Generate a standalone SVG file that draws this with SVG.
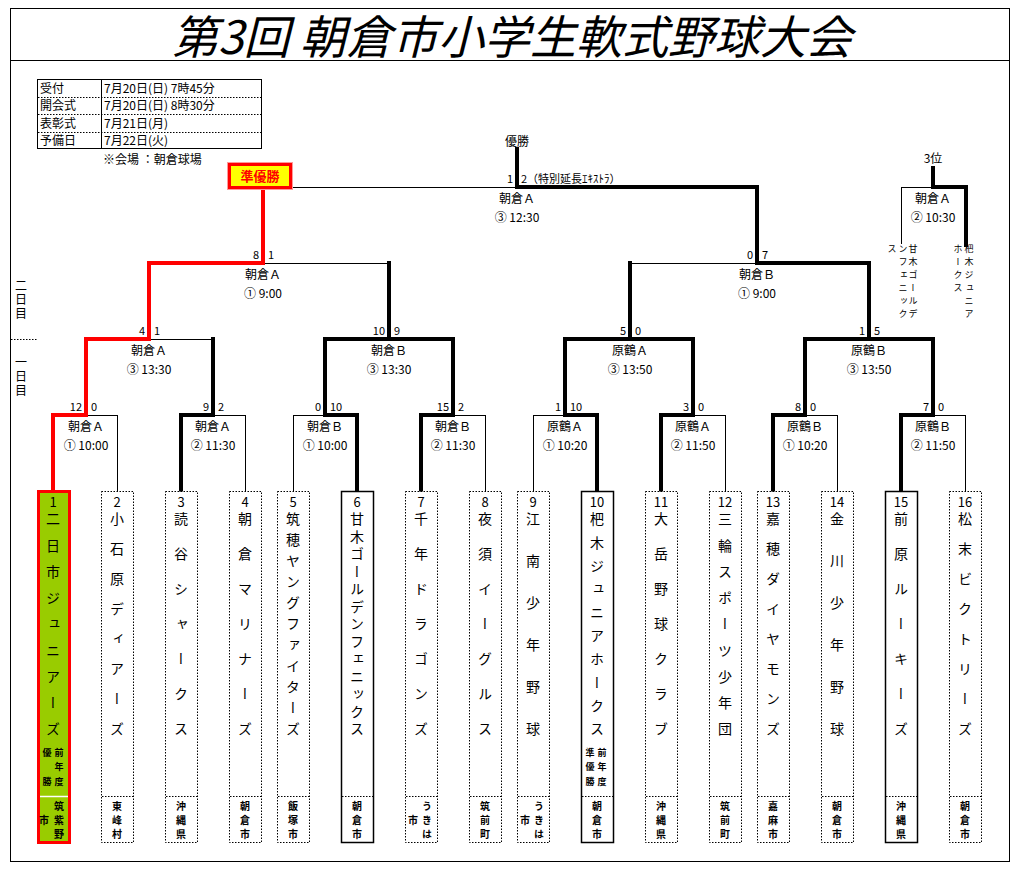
<svg xmlns="http://www.w3.org/2000/svg" width="1024" height="870" viewBox="0 0 1024 870">
<style>
text{font-family:"Noto Sans CJK JP","Noto Sans CJK SC",sans-serif;fill:#000}
.title{font-size:46px;font-style:italic;text-anchor:middle}
.t12{font-size:12px}
.v{font-size:12px;text-anchor:middle}
.sl{font-size:11px;text-anchor:end}
.sr{font-size:11px;text-anchor:start}
.num{font-size:13px;text-anchor:middle}
.vt{writing-mode:vertical-rl;font-size:14px}
.ct{writing-mode:vertical-rl;font-size:10px;font-weight:bold;letter-spacing:4px}
.sm{writing-mode:vertical-rl;font-size:9px;font-weight:bold}
.tiny{writing-mode:vertical-rl;font-size:9px;letter-spacing:4px}
.day{writing-mode:vertical-rl;font-size:12px;letter-spacing:2px}
.tn{fill:none;stroke:#000;stroke-width:1;shape-rendering:crispEdges}
.tk{fill:none;stroke:#000;stroke-width:4;stroke-linejoin:miter;stroke-linecap:square}
.rd{fill:none;stroke:#ff0000;stroke-width:4;stroke-linejoin:miter;stroke-linecap:square}
.box{fill:#fff;stroke:#000;stroke-width:1;stroke-dasharray:1.5,1.5}
.boxs{fill:#fff;stroke:#000;stroke-width:1.5}
.dv{stroke:#000;stroke-width:1;stroke-dasharray:1.5,1.5}
</style>
<rect x="0" y="0" width="1024" height="870" fill="#fff"/>
<g id="frame">
<rect x="10.5" y="8.5" width="999" height="853" fill="none" stroke="#000" stroke-width="1"/>
<line x1="10" y1="60.5" x2="1010" y2="60.5" stroke="#000" stroke-width="1"/>
<text class="title" x="512" y="54">第3回 朝倉市小学生軟式野球大会</text>
</g>
<g id="info">
<rect x="37.5" y="79.5" width="224" height="69" fill="none" stroke="#000" stroke-width="1"/>
<line x1="101.5" y1="79" x2="101.5" y2="149" stroke="#000" stroke-width="1"/>
<line x1="38" y1="97.5" x2="261" y2="97.5" class="dv"/>
<line x1="38" y1="114.5" x2="261" y2="114.5" class="dv"/>
<line x1="38" y1="132.5" x2="261" y2="132.5" class="dv"/>
<text class="t12" x="40" y="93">受付</text>
<text class="t12" x="40" y="110">開会式</text>
<text class="t12" x="40" y="128">表彰式</text>
<text class="t12" x="40" y="145">予備日</text>
<text class="t12" x="104" y="93">7月20日(日) 7時45分</text>
<text class="t12" x="104" y="110">7月20日(日) 8時30分</text>
<text class="t12" x="104" y="128">7月21日(月)</text>
<text class="t12" x="104" y="145">7月22日(火)</text>
<text class="t12" x="103" y="164">※会場 ：朝倉球場</text>
</g>
<g id="days">
<text class="day" x="21" y="279">二日目</text>
<line x1="11" y1="339.5" x2="38" y2="339.5" class="dv"/>
<text class="day" x="21" y="356">一日目</text>
</g>
<g id="connectors">
<path class="tn" transform="translate(0.5,0.5)" d="M117,491V415H86 M245,491V415H213 M293,491V415H325 M485,491V415H453 M533,491V415H565 M725,491V415H693 M837,491V415H805 M965,491V415H933 M213,339H149 M389,263H263 M630,263H757 M263,187H517 M901,243V187H933"/>
<path class="tk" d="M181,491V415H213V339 M357,491V415H325V339H389V263 M421,491V415H453V339H389 M597,491V415H565V339H630V263 M661,491V415H693V339H630 M773,491V415H805V339H869 M901,491V415H933V339H869V263H757V187H517V149 M966,245V187H933V168"/>
<path class="rd" d="M53,491V415H86V339H149V263H263V187"/>
</g>
<g id="final">
<text class="v" x="517" y="146">優勝</text>
<text class="sl" x="513" y="183">1</text>
<text class="sr" x="521" y="183">2（特別延長ｴｷｽﾄﾗ）</text>
<text class="v" x="517" y="203">朝倉Ａ</text>
<text class="v" x="517" y="222">③ 12:30</text>
</g>
<g id="runnerup">
<rect x="229.5" y="164.5" width="61" height="23" fill="#ffff00" stroke="#ff0000" stroke-width="3"/>
<rect x="227.5" y="162.5" width="65" height="27" fill="none" stroke="#ff9999" stroke-width="1"/>
<text x="260" y="181" font-size="13" font-weight="bold" text-anchor="middle" style="fill:#ff0000">準優勝</text>
</g>
<g id="third">
<text class="v" x="933" y="163">3位</text>
<text class="v" x="933" y="203">朝倉Ａ</text>
<text class="v" x="933" y="222">② 10:30</text>
<text class="tiny" x="913" y="244">甘木ゴールデ</text>
<text class="tiny" x="903" y="244">ンフェニック</text>
<text class="tiny" x="892" y="244">ス</text>
<text class="tiny" x="969" y="244">杷木ジュニア</text>
<text class="tiny" x="958" y="244">ホークス</text>
</g>
<g id="r3">
<text class="sl" x="259" y="259">8</text><text class="sr" x="268" y="259">1</text>
<text class="v" x="263" y="279">朝倉Ａ</text><text class="v" x="263" y="298">① 9:00</text>
<text class="sl" x="753" y="259">0</text><text class="sr" x="762" y="259">7</text>
<text class="v" x="757" y="279">朝倉Ｂ</text><text class="v" x="757" y="298">① 9:00</text>
</g>
<g id="r2">
<text class="sl" x="145" y="335">4</text><text class="sr" x="154" y="335">1</text>
<text class="v" x="149" y="355">朝倉Ａ</text><text class="v" x="149" y="374">③ 13:30</text>
<text class="sl" x="385" y="335">10</text><text class="sr" x="394" y="335">9</text>
<text class="v" x="389" y="355">朝倉Ｂ</text><text class="v" x="389" y="374">③ 13:30</text>
<text class="sl" x="626" y="335">5</text><text class="sr" x="635" y="335">0</text>
<text class="v" x="630" y="355">原鶴Ａ</text><text class="v" x="630" y="374">③ 13:50</text>
<text class="sl" x="865" y="335">1</text><text class="sr" x="874" y="335">5</text>
<text class="v" x="869" y="355">原鶴Ｂ</text><text class="v" x="869" y="374">③ 13:50</text>
</g>
<g id="r1">
<text class="sl" x="82" y="411">12</text><text class="sr" x="91" y="411">0</text>
<text class="v" x="86" y="431">朝倉Ａ</text><text class="v" x="86" y="450">① 10:00</text>
<text class="sl" x="209" y="411">9</text><text class="sr" x="218" y="411">2</text>
<text class="v" x="213" y="431">朝倉Ａ</text><text class="v" x="213" y="450">② 11:30</text>
<text class="sl" x="321" y="411">0</text><text class="sr" x="330" y="411">10</text>
<text class="v" x="325" y="431">朝倉Ｂ</text><text class="v" x="325" y="450">① 10:00</text>
<text class="sl" x="449" y="411">15</text><text class="sr" x="458" y="411">2</text>
<text class="v" x="453" y="431">朝倉Ｂ</text><text class="v" x="453" y="450">② 11:30</text>
<text class="sl" x="561" y="411">1</text><text class="sr" x="570" y="411">10</text>
<text class="v" x="565" y="431">原鶴Ａ</text><text class="v" x="565" y="450">① 10:20</text>
<text class="sl" x="689" y="411">3</text><text class="sr" x="698" y="411">0</text>
<text class="v" x="693" y="431">原鶴Ａ</text><text class="v" x="693" y="450">② 11:50</text>
<text class="sl" x="801" y="411">8</text><text class="sr" x="810" y="411">0</text>
<text class="v" x="805" y="431">原鶴Ｂ</text><text class="v" x="805" y="450">① 10:20</text>
<text class="sl" x="929" y="411">7</text><text class="sr" x="938" y="411">0</text>
<text class="v" x="933" y="431">原鶴Ｂ</text><text class="v" x="933" y="450">② 11:50</text>
</g>
<g id="team1">
<rect x="38.5" y="491.5" width="31" height="351" fill="#99cc00" stroke="#ff0000" stroke-width="3"/>
<line x1="40" y1="796.5" x2="68" y2="796.5" stroke="#fff" stroke-width="1.5"/>
<text class="num" x="53" y="507">1</text>
<text class="vt" x="53" y="512" style="letter-spacing:12.25px">二日市ジュニアーズ</text>
<text class="sm" x="59" y="748" style="letter-spacing:5.5px">前年度</text>
<text class="sm" x="47" y="748" style="letter-spacing:20px">優勝</text>
<text class="ct" x="59" y="801">筑紫野</text>
<text class="ct" x="44" y="815">市</text>
</g>
<g id="team2">
<rect class="box" x="101.5" y="491.5" width="32" height="351"/>
<line class="dv" x1="102" y1="796.5" x2="133" y2="796.5"/>
<text class="num" x="117" y="507">2</text>
<text class="vt" x="117" y="512" style="letter-spacing:16px">小石原ディアーズ</text>
<text class="ct" x="117" y="801">東峰村</text>
</g>
<g id="team3">
<rect class="box" x="165.5" y="491.5" width="32" height="351"/>
<line class="dv" x1="166" y1="796.5" x2="197" y2="796.5"/>
<text class="num" x="181" y="507">3</text>
<text class="vt" x="181" y="512" style="letter-spacing:21px">読谷シャークス</text>
<text class="ct" x="181" y="801">沖縄県</text>
</g>
<g id="team4">
<rect class="box" x="229.5" y="491.5" width="32" height="351"/>
<line class="dv" x1="230" y1="796.5" x2="261" y2="796.5"/>
<text class="num" x="245" y="507">4</text>
<text class="vt" x="245" y="512" style="letter-spacing:21px">朝倉マリナーズ</text>
<text class="ct" x="245" y="801">朝倉市</text>
</g>
<g id="team5">
<rect class="box" x="277.5" y="491.5" width="32" height="351"/>
<line class="dv" x1="278" y1="796.5" x2="309" y2="796.5"/>
<text class="num" x="293" y="507">5</text>
<text class="vt" x="293" y="512" style="letter-spacing:7px">筑穂ヤングファイターズ</text>
<text class="ct" x="293" y="801">飯塚市</text>
</g>
<g id="team6">
<rect class="boxs" x="341.5" y="491.5" width="32" height="351"/>
<line class="dv" x1="342" y1="796.5" x2="373" y2="796.5"/>
<text class="num" x="357" y="507">6</text>
<text class="vt" x="357" y="512" style="letter-spacing:3.5px">甘木ゴールデンフェニックス</text>
<text class="ct" x="357" y="801">朝倉市</text>
</g>
<g id="team7">
<rect class="box" x="405.5" y="491.5" width="32" height="351"/>
<line class="dv" x1="406" y1="796.5" x2="437" y2="796.5"/>
<text class="num" x="421" y="507">7</text>
<text class="vt" x="421" y="512" style="letter-spacing:21px">千年ドラゴンズ</text>
<text class="ct" x="427" y="801">うきは</text>
<text class="ct" x="413" y="815">市</text>
</g>
<g id="team8">
<rect class="box" x="469.5" y="491.5" width="32" height="351"/>
<line class="dv" x1="470" y1="796.5" x2="501" y2="796.5"/>
<text class="num" x="485" y="507">8</text>
<text class="vt" x="485" y="512" style="letter-spacing:21px">夜須イーグルス</text>
<text class="ct" x="485" y="801">筑前町</text>
</g>
<g id="team9">
<rect class="box" x="517.5" y="491.5" width="32" height="351"/>
<line class="dv" x1="518" y1="796.5" x2="549" y2="796.5"/>
<text class="num" x="533" y="507">9</text>
<text class="vt" x="533" y="512" style="letter-spacing:28px">江南少年野球</text>
<text class="ct" x="539" y="801">うきは</text>
<text class="ct" x="525" y="815">市</text>
</g>
<g id="team10">
<rect class="boxs" x="581.5" y="491.5" width="32" height="351"/>
<line class="dv" x1="582" y1="796.5" x2="613" y2="796.5"/>
<text class="num" x="597" y="507">10</text>
<text class="vt" x="597" y="512" style="letter-spacing:9.33px">杷木ジュニアホークス</text>
<text class="sm" x="602" y="748" style="letter-spacing:5.5px">前年度</text>
<text class="sm" x="590" y="748" style="letter-spacing:5.5px">準優勝</text>
<text class="ct" x="597" y="801">朝倉市</text>
</g>
<g id="team11">
<rect class="box" x="645.5" y="491.5" width="32" height="351"/>
<line class="dv" x1="646" y1="796.5" x2="677" y2="796.5"/>
<text class="num" x="661" y="507">11</text>
<text class="vt" x="661" y="512" style="letter-spacing:21px">大岳野球クラブ</text>
<text class="ct" x="661" y="801">沖縄県</text>
</g>
<g id="team12">
<rect class="box" x="709.5" y="491.5" width="32" height="351"/>
<line class="dv" x1="710" y1="796.5" x2="741" y2="796.5"/>
<text class="num" x="725" y="507">12</text>
<text class="vt" x="725" y="512" style="letter-spacing:12.25px">三輪スポーツ少年団</text>
<text class="ct" x="725" y="801">筑前町</text>
</g>
<g id="team13">
<rect class="box" x="757.5" y="491.5" width="32" height="351"/>
<line class="dv" x1="758" y1="796.5" x2="789" y2="796.5"/>
<text class="num" x="773" y="507">13</text>
<text class="vt" x="773" y="512" style="letter-spacing:16px">嘉穂ダイヤモンズ</text>
<text class="ct" x="773" y="801">嘉麻市</text>
</g>
<g id="team14">
<rect class="box" x="821.5" y="491.5" width="32" height="351"/>
<line class="dv" x1="822" y1="796.5" x2="853" y2="796.5"/>
<text class="num" x="837" y="507">14</text>
<text class="vt" x="837" y="512" style="letter-spacing:28px">金川少年野球</text>
<text class="ct" x="837" y="801">朝倉市</text>
</g>
<g id="team15">
<rect class="boxs" x="885.5" y="491.5" width="32" height="351"/>
<line class="dv" x1="886" y1="796.5" x2="917" y2="796.5"/>
<text class="num" x="901" y="507">15</text>
<text class="vt" x="901" y="512" style="letter-spacing:21px">前原ルーキーズ</text>
<text class="ct" x="901" y="801">沖縄県</text>
</g>
<g id="team16">
<rect class="box" x="949.5" y="491.5" width="32" height="351"/>
<line class="dv" x1="950" y1="796.5" x2="981" y2="796.5"/>
<text class="num" x="965" y="507">16</text>
<text class="vt" x="965" y="512" style="letter-spacing:16px">松末ビクトリーズ</text>
<text class="ct" x="965" y="801">朝倉市</text>
</g>
</svg>
